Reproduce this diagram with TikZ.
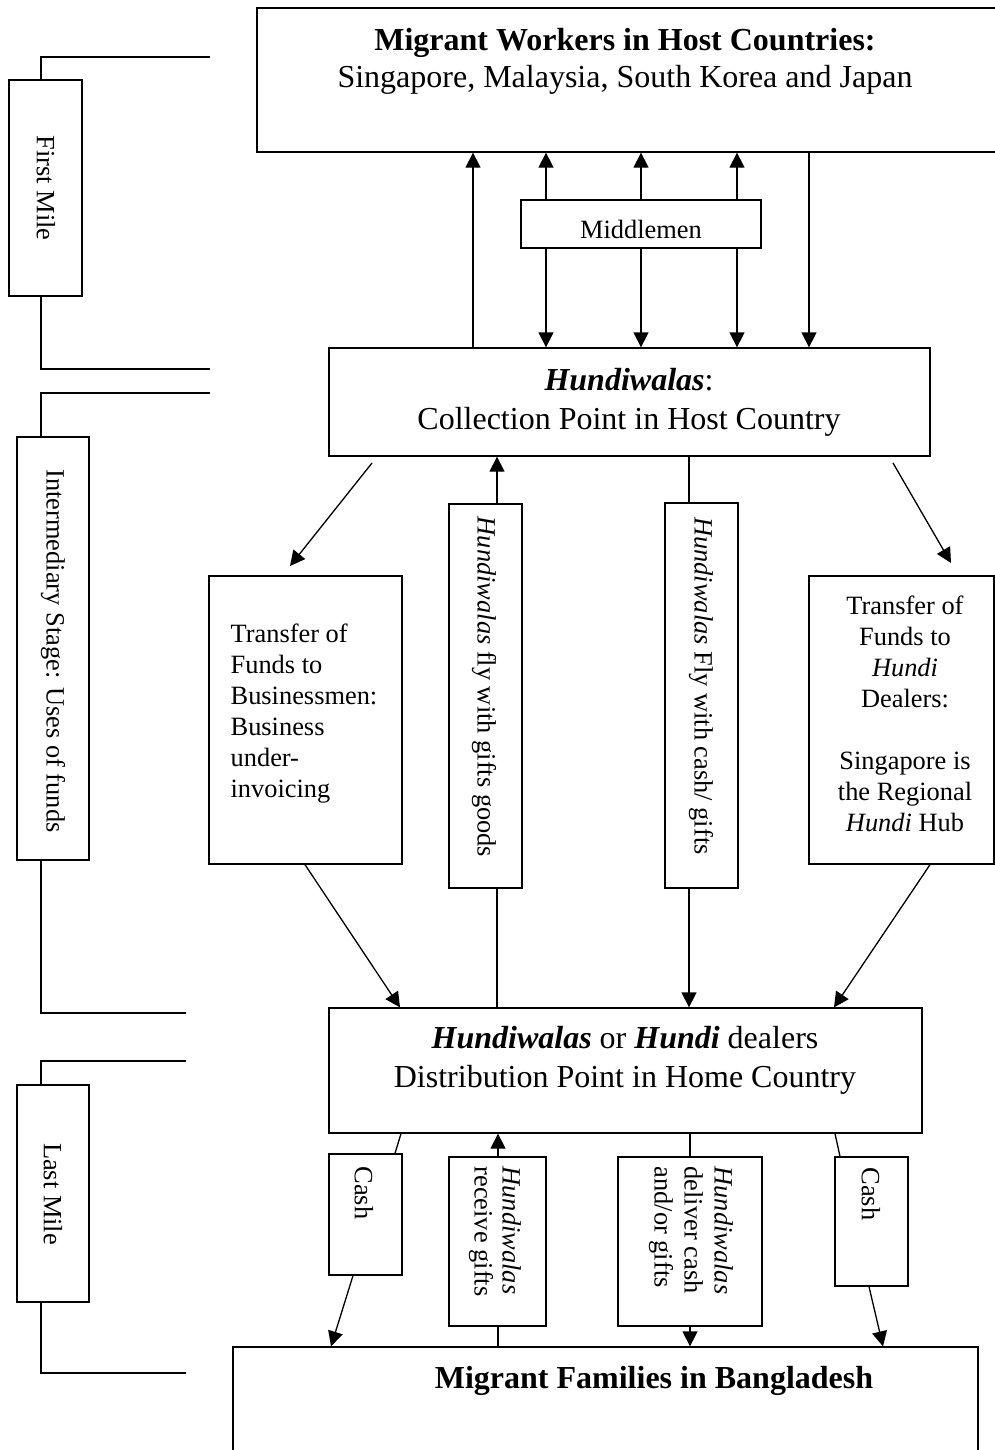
\documentclass[tikz,border=0pt]{standalone}
\usepackage{fontspec}
\setmainfont{Liberation Serif}
\usetikzlibrary{arrows.meta,fit}
\newcommand\myBigA{\fontsize{16}{18.5}\selectfont}
\newcommand\myBigB{\fontsize{16}{19.5}\selectfont}
\newcommand\mySmall{\fontsize{13.2}{15.5}\selectfont}
\begin{document}
\begin{tikzpicture}[x=0.5pt,y=-0.5pt,line width=0.65pt,
  box/.style={draw,inner sep=0pt,line width=0.65pt},
  arr/.style={-{Triangle[length=7.5pt,width=7.5pt]}},
  lbl/.style={inner sep=0pt,font=\mySmall},
  big/.style={inner sep=0pt,font=\myBigA},
  bigb/.style={inner sep=0pt,font=\myBigB}]
\useasboundingbox (0,0) rectangle (995,1450);
\clip (0,0) rectangle (995,1450);
\foreach \x in {41,473,546,641,737,809,497,689,305,400,930,834,401,395,353,331,498,690,835,840,869,883}
  \coordinate (x\x) at (\x,0);

% ---- main boxes ----
\node[box,fit={(257,8) (1000,152)}] (top) {};
\node[big,align=center] (toptext) at (625,61) {\textbf{Migrant Workers in Host Countries:}\\Singapore, Malaysia, South Korea and Japan};

\node[box,fit={(521,200) (761,248)}] (mid) {};
\node[lbl,anchor=base] (midtext) at (641,238) {Middlemen};

\node[box,fit={(329,348) (930,456)}] (hcol) {};
\node[bigb,align=center] (hcoltext) at (629,402) {\textbf{\textit{Hundiwalas}}:\\Collection Point in Host Country};

\node[box,fit={(209,576) (402,864)}] (tl) {};
\node[lbl,align=left,anchor=west] (tltext) at (230,714) {Transfer of\\Funds to\\Businessmen:\\Business\\under-\\invoicing};

\node[box,fit={(449,504) (522,888)}] (v1) {};
\node[lbl,rotate=-90] (v1text) at (484,687) {\textit{Hundiwalas} fly with gifts goods};

\node[box,fit={(665,503) (738,888)}] (v2) {};
\node[lbl,rotate=-90] (v2text) at (701,686) {\textit{Hundiwalas} Fly with cash/ gifts};

\node[box,fit={(809,576) (994,864)}] (tr) {};
\node[lbl,align=center] (trtext) at (905,714) {Transfer of\\Funds to\\\textit{Hundi}\\Dealers:\\[15.5pt]Singapore is\\the Regional\\\textit{Hundi} Hub};

\node[box,fit={(329,1008) (922,1133)}] (dist) {};
\node[bigb,align=center] (disttext) at (625,1060) {\textbf{\textit{Hundiwalas}} or \textbf{\textit{Hundi}} dealers\\Distribution Point in Home Country};

\node[box,fit={(329,1154) (402,1275)}] (cashL) {};
\node[lbl,rotate=-90,anchor=west] (cashLtext) at (364,1166) {Cash};

\node[box,fit={(449,1157) (546,1326)}] (recv) {};
\node[lbl,rotate=-90,anchor=west,align=left,font=\fontsize{13.2}{14}\selectfont] (recvtext) at (495,1166) {\textit{Hundiwalas}\\receive gifts};

\node[box,fit={(618,1157) (762,1326)}] (deliv) {};
\node[lbl,rotate=-90,anchor=west,align=left,font=\fontsize{13.2}{15}\selectfont] (delivtext) at (691,1166) {\textit{Hundiwalas}\\deliver cash\\and/or gifts};

\node[box,fit={(835,1157) (908,1286)}] (cashR) {};
\node[lbl,rotate=-90,anchor=west] (cashRtext) at (871,1167) {Cash};

\node[box,fit={(233,1347) (978,1470)}] (fam) {};
\node[big,anchor=base] (famtext) at (654,1388) {\textbf{Migrant Families in Bangladesh}};

% ---- stage boxes on the left ----
\node[box,fit={(9,80) (82,296)}] (fm) {};
\node[lbl,rotate=-90] (fmtext) at (46,188) {First Mile};
\node[box,fit={(17,437) (89,860)}] (im) {};
\node[lbl,rotate=-90] (imtext) at (53,651) {Intermediary Stage: Uses of funds};
\node[box,fit={(17,1085) (89,1302)}] (lm) {};
\node[lbl,rotate=-90] (lmtext) at (53,1194) {Last Mile};

\coordinate (b1a) at (210,57);
\coordinate (b1b) at (210,369);
\coordinate (b2a) at (210,393);
\coordinate (b2b) at (186,1013);
\coordinate (b3a) at (186,1061);
\coordinate (b3b) at (186,1373);
\draw (b1a) -- (x41 |- b1a) -- (fm.north -| x41);
\draw (fm.south -| x41) -- (x41 |- b1b) -- (b1b);
\draw (b2a) -- (x41 |- b2a) -- (im.north -| x41);
\draw (im.south -| x41) -- (x41 |- b2b) -- (b2b);
\draw (b3a) -- (x41 |- b3a) -- (lm.north -| x41);
\draw (lm.south -| x41) -- (x41 |- b3b) -- (b3b);

% ---- top connectors ----
\draw[arr] (hcol.north -| x473) -- (top.south -| x473);
\foreach \x in {546,641,737}{
  \draw[arr] (mid.north -| x\x) -- (top.south -| x\x);
  \draw[arr] (mid.south -| x\x) -- (hcol.north -| x\x);
}
\draw[arr] (top.south -| x809) -- (hcol.north -| x809);

% ---- middle connectors ----
\coordinate (d1s) at (372,463);
\coordinate (d1e) at (290,566);
\coordinate (d2s) at (893,463);
\coordinate (d2e) at (951,563);
\draw[arr] (d1s) -- (d1e);
\draw[arr] (d2s) -- (d2e);
\draw[arr] (v1.north -| x497) -- (hcol.south -| x497);
\draw (v1.south -| x497) -- (dist.north -| x497);
\draw (hcol.south -| x689) -- (v2.north -| x689);
\draw[arr] (v2.south -| x689) -- (dist.north -| x689);
\draw[arr] (tl.south -| x305) -- (dist.north -| x400);
\draw[arr] (tr.south -| x930) -- (dist.north -| x834);

% ---- bottom connectors ----
\draw (dist.south -| x401) -- (cashL.north -| x395);
\draw[arr] (cashL.south -| x353) -- (fam.north -| x331);
\draw[arr] (recv.north -| x498) -- (dist.south -| x498);
\draw (fam.north -| x498) -- (recv.south -| x498);
\draw (dist.south -| x690) -- (deliv.north -| x690);
\draw[arr] (deliv.south -| x690) -- (fam.north -| x690);
\draw (dist.south -| x835) -- (cashR.north -| x840);
\draw[arr] (cashR.south -| x869) -- (fam.north -| x883);
\end{tikzpicture}
\end{document}
